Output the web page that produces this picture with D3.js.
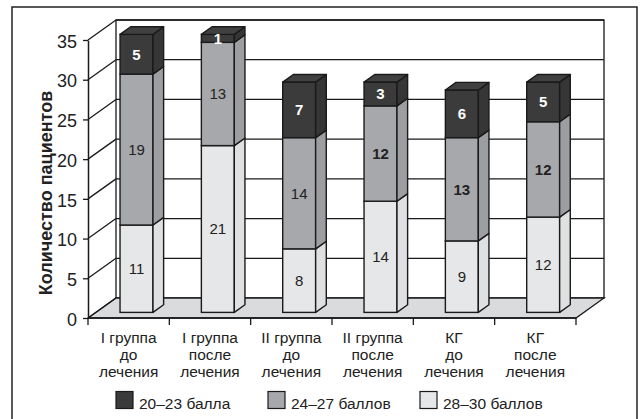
<!DOCTYPE html>
<html><head><meta charset="utf-8">
<script src="https://cdn.jsdelivr.net/npm/d3@7"></script>
<style>
html,body{margin:0;padding:0;background:#fff;}
svg{display:block;font-family:"Liberation Sans",Arial,sans-serif;}
</style></head>
<body>
<script>
// ---- data ----
const categories = ["I группа до лечения","I группа после лечения","II группа до лечения","II группа после лечения","КГ до лечения","КГ после лечения"];
const categoryLines = [["I группа","до","лечения"],["I группа","после","лечения"],["II группа","до","лечения"],["II группа","после","лечения"],["КГ","до","лечения"],["КГ","после","лечения"]];
const series = ["28–30 баллов","24–27 баллов","20–23 балла"];
const values28_30 = [11,21,8,14,9,12];
const values24_27 = [19,13,14,12,13,12];
const values20_23 = [5,1,7,3,6,5];
const yTicks = [0,5,10,15,20,25,30,35];
const legendOrder = ["20–23 балла","24–27 баллов","28–30 баллов"];
const yTitle = "Количество пациентов";

// ---- styles ----
const fills = {"28–30 баллов":"#e6e7e8","24–27 баллов":"#a7a8ab","20–23 балла":"#3b3b3b"};
const sideFills = {"28–30 баллов":"#dfe0e1","24–27 баллов":"#9d9ea1","20–23 балла":"#363636"};
const topFills = {"28–30 баллов":"#eeeeef","24–27 баллов":"#b0b1b4","20–23 балла":"#404040"};

const W=642,H=419;
const svg=d3.select("body").append("svg").attr("width",W).attr("height",H);

// outer frame
svg.append("rect").attr("x",12).attr("y",7).attr("width",625).attr("height",430)
  .attr("fill","none").attr("stroke","#222").attr("stroke-width",1.5);

const y=d3.scaleLinear().domain([0,35]).range([318,40]);
const x=d3.scaleBand().domain(categories).range([88,576]);
const DX=28, DY=-20;
const bw=x.bandwidth();
const barW=bw*0.405;
const fFront=0.28, fBack=0.66;
const sdx=(fBack-fFront)*DX, sdy=(fBack-fFront)*DY;

const g=svg.append("g");
const line="#1a1a1a";

// back wall
g.append("rect").attr("x",88+DX).attr("y",y(35)+DY).attr("width",576-88).attr("height",y(0)-y(35))
  .attr("fill","#fff").attr("stroke",line).attr("stroke-width",1.3);
// floor
g.append("path").attr("d",`M88,${y(0)}L576,${y(0)}L${576+DX},${y(0)+DY}L${88+DX},${y(0)+DY}Z`)
  .attr("fill","#dadbdc").attr("stroke",line).attr("stroke-width",1.3);
// gridlines
yTicks.forEach(v=>{
  if(v===0) return;
  g.append("line").attr("x1",88+DX).attr("x2",576+DX).attr("y1",y(v)+DY).attr("y2",y(v)+DY)
    .attr("stroke",line).attr("stroke-width",1.3);
  g.append("line").attr("x1",88).attr("x2",88+DX).attr("y1",y(v)).attr("y2",y(v)+DY)
    .attr("stroke",line).attr("stroke-width",1.3);
});
g.append("line").attr("x1",88).attr("x2",88+DX).attr("y1",y(0)).attr("y2",y(0)+DY)
  .attr("stroke",line).attr("stroke-width",1.3);

// y axis
const ya=svg.append("g").attr("transform","translate(88,0)")
  .call(d3.axisLeft(y).tickValues(yTicks).tickSize(5).tickSizeOuter(0).tickPadding(6));
ya.select(".domain").attr("stroke",line).attr("stroke-width",1.5);
ya.selectAll(".tick line").attr("stroke",line).attr("stroke-width",1.3);
ya.selectAll(".tick text").attr("font-size",18).attr("fill","#222").attr("dy","0.4em")
  .attr("font-family","'Liberation Sans',Arial,sans-serif");

// x axis line and ticks
svg.append("line").attr("x1",88).attr("x2",576).attr("y1",y(0)).attr("y2",y(0)).attr("stroke",line).attr("stroke-width",1.5);
const edges=categories.map(c=>x(c)).concat([x(categories[categories.length-1])+bw]);
edges.forEach(e=>svg.append("line").attr("x1",e).attr("x2",e).attr("y1",y(0)).attr("y2",y(0)+7).attr("stroke",line).attr("stroke-width",1.3));
categories.forEach((c,i)=>{
  const t=svg.append("text").attr("x",x(c)+bw/2).attr("y",342.5).attr("text-anchor","middle")
    .attr("font-size",15.5).attr("fill","#222");
  categoryLines[i].forEach((l,j)=>t.append("tspan").attr("x",x(c)+bw/2).attr("y",342.5+j*17).text(l));
});

// stack
const rows=categories.map((c,i)=>({cat:c,"28–30 баллов":values28_30[i],"24–27 баллов":values24_27[i],"20–23 балла":values20_23[i]}));
const stacked=d3.stack().keys(series)(rows);

categories.forEach((c,i)=>{
  const x0=x(c)+(bw-barW)/2+fFront*DX;
  const x1=x0+barW;
  const off=fFront*DY;
  const bg=svg.append("g");
  stacked.forEach((s,si)=>{
    const d=s[i];
    const yb=y(d[0])+off, yt=y(d[1])+off;
    const key=s.key;
    bg.append("rect").attr("x",x0).attr("y",yt).attr("width",barW).attr("height",yb-yt)
      .attr("fill",fills[key]).attr("stroke",line).attr("stroke-width",1.4);
    bg.append("path").attr("d",`M${x1},${yb}L${x1+sdx},${yb+sdy}L${x1+sdx},${yt+sdy}L${x1},${yt}Z`)
      .attr("fill",sideFills[key]).attr("stroke",line).attr("stroke-width",1.4).attr("stroke-linejoin","round");
    if(si===stacked.length-1){
      bg.append("path").attr("d",`M${x0},${yt}L${x1},${yt}L${x1+sdx},${yt+sdy}L${x0+sdx},${yt+sdy}Z`)
        .attr("fill",topFills[key]).attr("stroke",line).attr("stroke-width",1.4).attr("stroke-linejoin","round");
    }
    const isDark=key==="20–23 балла";
    const isBold=isDark||(key==="24–27 баллов"&&i>=3);
    bg.append("text").attr("x",(x0+x1)/2).attr("y",(yb+yt)/2).attr("dy","0.36em")
      .attr("text-anchor","middle").attr("font-size",15)
      .attr("font-weight",isBold?"bold":"normal")
      .attr("fill",isDark?"#fff":"#222").text(d.data[key]);
  });
});

// y title
svg.append("text").attr("transform","translate(52,193) rotate(-90)").attr("text-anchor","middle")
  .attr("font-size",18).attr("font-weight","bold").attr("fill","#222").text(yTitle);

// legend
const legX=[116,268,420];
legendOrder.forEach((k,i)=>{
  svg.append("rect").attr("x",legX[i]).attr("y",391.5).attr("width",17).attr("height",17)
    .attr("fill",fills[k]).attr("stroke",line).attr("stroke-width",1.2);
  svg.append("text").attr("x",legX[i]+23).attr("y",408.5).attr("font-size",15.5).attr("fill","#222").text(k);
});
</script>
</body></html>
